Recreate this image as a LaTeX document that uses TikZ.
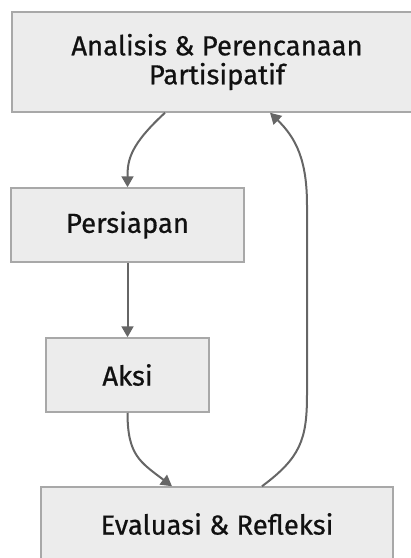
\documentclass[tikz,border=0pt]{standalone}
\usepackage{fontspec}
\newfontfamily\boxfont{Fira Sans}[UprightFeatures={FakeBold=0.6}]
\usepackage{tikz}
\usetikzlibrary{arrows.meta,positioning}
\definecolor{boxfill}{HTML}{ECECEC}
\definecolor{boxline}{HTML}{A8A8A8}
\definecolor{arrowgray}{HTML}{666666}
\definecolor{txtgray}{HTML}{111111}
\tikzset{
  cyc/.style={x=1pt, y=-1pt, >={Triangle[length=11pt,width=12pt]},
              every node/.style={draw=boxline, line width=1.5pt, rectangle, fill=boxfill, text=txtgray,
                                 font=\boxfont\fontsize{27.5}{29}\selectfont, align=center, inner sep=0pt}},
  link/.style={->, draw=arrowgray, line width=2pt, fill=none}
}

\begin{document}
\begin{tikzpicture}[cyc]
\useasboundingbox (0,0) rectangle (411,558);
\clip (0,0) rectangle (411,558);
\node[minimum width=410pt, minimum height=100pt] (plan) at (217,62) {Analisis \& Perencanaan\\Partisipatif};
\node[minimum width=233pt, minimum height=74pt] (prep) at (127.5,225) {Persiapan};
\node[minimum width=163pt, minimum height=74pt] (aksi) at (127.5,375) {Aksi};
\node[minimum width=352pt, minimum height=74pt] (eval) at (217,524) {Evaluasi \& Refleksi};
% siklus
\draw[link] ([xshift=-52pt]plan.south) .. controls (130,145) and (127.5,160) .. (prep.north);
\draw[link] (prep) -- (aksi);
\draw[link] (aksi.south) .. controls (127.5,455) and (140,462) .. ([xshift=-45pt]eval.north);
\draw[link] ([xshift=45pt]eval.north) .. controls (300,458) and (307,440) .. (307,395) -- (307,205)
  .. controls (307,160) and (296,138) .. ([xshift=53pt]plan.south);
\end{tikzpicture}
\end{document}
